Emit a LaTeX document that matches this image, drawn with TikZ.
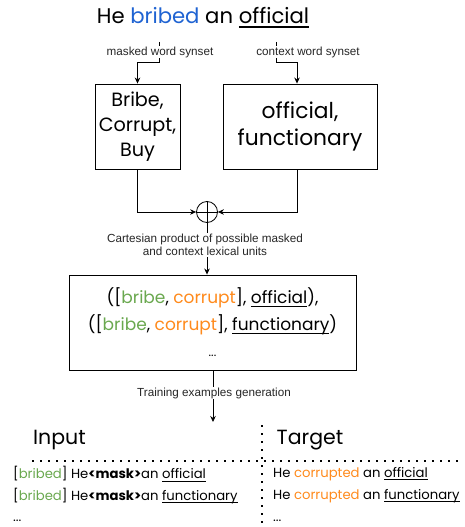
\documentclass[tikz,border=0pt]{standalone}
\usepackage{fontspec}
\setmainfont{Poppins}
\newfontfamily\lab{Liberation Sans}
\usetikzlibrary{arrows.meta}
\definecolor{wblue}{HTML}{1F63D2}
\definecolor{wgreen}{HTML}{6AA84F}
\definecolor{worange}{HTML}{FF8A1C}
% underline at a fixed depth, independent of descenders
\newcommand\ulin[2][0.9pt]{\setbox0\hbox{#2}\rlap{\rule[-0.2em]{\wd0}{#1}}\box0}
% font size and line distance, both in pt
\newcommand\fs[2]{\fontsize{#1pt}{#2pt}\selectfont}
\begin{document}
\begin{tikzpicture}[x=1pt,y=-1pt,
  box/.style={draw,line width=0.9pt,inner sep=0pt,align=center},
  lbl/.style={font=\lab\fs{11.7}{13.5},fill=white,inner sep=1pt,align=center,text=black!85},
  arr/.style={line width=0.8pt,-{Stealth[length=6pt,width=5.5pt]}},
  dots/.style={line width=1.5pt,dash pattern=on 1.5pt off 6.5pt},
  row/.style={anchor=west,font=\fs{13.2}{16},inner sep=0pt}]
\useasboundingbox (0,0) rectangle (464,527);

% sentence
\node[font=\fs{21.2}{26}] (title) at (203,18) {He \textcolor{wblue}{bribed} an \ulin[2.3pt]{official}};
\coordinate (mw) at (159,42);
\coordinate (cw) at (276,42);

% synset boxes
\node[box,minimum width=85,minimum height=85,font=\fs{19.2}{25}] (b1) at (137.5,126.5) {Bribe,\\Corrupt,\\Buy};
\node[box,minimum width=154,minimum height=85,font=\fs{21.8}{27}] (b2) at (300,126.5) {official,\\functionary};

\draw[arr] (mw) -- ++(0,20) -| (b1.north);
\draw[arr] (cw) -- ++(0,20) -| ([xshift=-3]b2.north);
\node[lbl] (l1) at (160,52) {masked word synset};
\node[lbl] (l2) at (308,52) {context word synset};

% cartesian product
\node[draw,circle,line width=0.8pt,minimum size=21,inner sep=0pt,
  path picture={\draw[line width=0.8pt] (path picture bounding box.north) -- (path picture bounding box.south)
     (path picture bounding box.west) -- (path picture bounding box.east);}] (op) at (207,212) {};
\draw[arr] (b1.south) |- (op.west);
\draw[arr] ([xshift=-3]b2.south) |- (op.east);

% lexical unit pairs
\node[box,minimum width=287,minimum height=95,font=\fs{17}{26.5}] (b3) at (212.5,322.5)
  {([\textcolor{wgreen}{bribe}, \textcolor{worange}{corrupt}], \ulin{official}),\\
   ([\textcolor{wgreen}{bribe}, \textcolor{worange}{corrupt}], \ulin{functionary})\\
   {\fs{12}{26.5}...}};
\draw[arr] (op.south) -- (op.south |- b3.north);
\node[lbl] (l3) at (205,245) {Cartesian product of possible masked\\and context lexical units};

% training examples
\coordinate (gen) at (213,422);
\draw[arr] (b3.south -| gen) -- (gen);
\node[lbl] (l4) at (214,393) {Training examples generation};

\node[font=\fs{20.5}{24}] (hin) at (59.5,440) {Input};
\node[font=\fs{20.5}{24}] (htg) at (310,440) {Target};
\draw[dots] (32,461) -- (464,461);
\draw[dots] (262,425) -- (262,527);

\node[row] (i1) at (13,474) {[\textcolor{wgreen}{bribed}] He\textbf{<mask>}an \ulin{official}};
\node[row] (i2) at (13,496) {[\textcolor{wgreen}{bribed}] He\textbf{<mask>}an \ulin{functionary}};
\node[row] (i3) at (13,521) {...};
\node[row] (t1) at (273,474) {He \textcolor{worange}{corrupted} an \ulin{official}};
\node[row] (t2) at (273,496) {He \textcolor{worange}{corrupted} an \ulin{functionary}};
\node[row] (t3) at (273,521) {...};
\end{tikzpicture}
\end{document}
